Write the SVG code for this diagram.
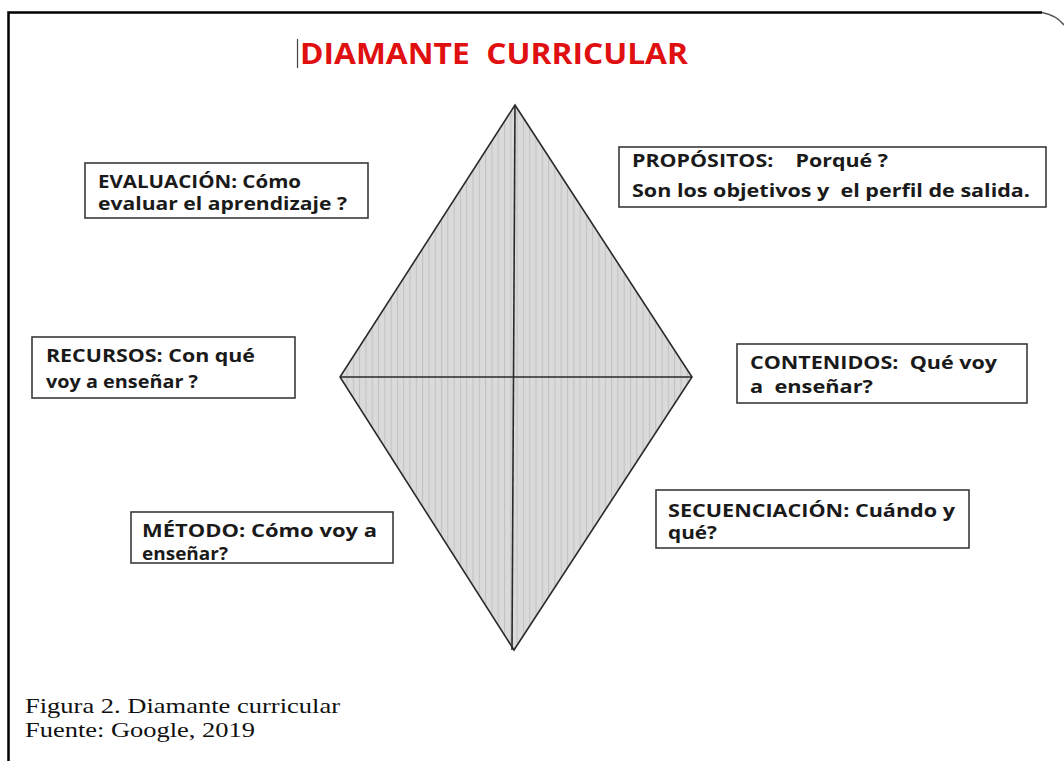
<svg xmlns="http://www.w3.org/2000/svg" width="1064" height="761" viewBox="0 0 1064 761">
<defs>
<pattern id="stripes" patternUnits="userSpaceOnUse" width="6.3" height="10">
<rect width="6.3" height="10" fill="#dadada"/>
<line x1="0.5" y1="0" x2="0.5" y2="10" stroke="#c2c2c2" stroke-width="1"/>
</pattern>
</defs>
<style>
.box{fill:#fff;stroke:#3a3a3a;stroke-width:1.6}
.lbl{font-family:"Open Sans","Liberation Sans",sans-serif;font-weight:bold;font-size:17.5px;fill:#1a1a1a}
.cap{font-family:"Liberation Serif","Times New Roman",serif;font-size:21px;fill:#111}
.edge{stroke:#2a2a2a;stroke-width:1.6;fill:none}
</style>
<rect width="1064" height="761" fill="#fff"/>
<g id="frame">
<path d="M8.5,761 V12.5 H1042" fill="none" stroke="#000" stroke-width="2.5"/>
<path d="M1042,12.5 Q1056,15 1064,25" fill="none" stroke="#555" stroke-width="1.5"/>
</g>
<g id="title">
<line x1="297.5" y1="39" x2="297.5" y2="68" stroke="#444" stroke-width="1.2"/>
<text x="300" y="64" font-family="Open Sans, Liberation Sans, sans-serif" font-weight="bold" font-size="28" fill="#e01010" textLength="388" lengthAdjust="spacingAndGlyphs" xml:space="preserve">DIAMANTE  CURRICULAR</text>
</g>
<g id="diamond">
<polygon points="515,105 692,377 514,650 340,377" fill="url(#stripes)" stroke="#2a2a2a" stroke-width="1.6"/>
</g>
<g id="connectors">
<line class="edge" x1="515" y1="105" x2="512" y2="650"/>
<line class="edge" x1="340" y1="377" x2="692" y2="377" stroke="#444"/>
</g>
<g id="evaluacion">
<rect class="box" x="85" y="163" width="283" height="55"/>
<text class="lbl" x="98" y="188" textLength="203" lengthAdjust="spacingAndGlyphs">EVALUACIÓN: Cómo</text>
<text class="lbl" x="98" y="210" textLength="249" lengthAdjust="spacingAndGlyphs">evaluar el aprendizaje ?</text>
</g>
<g id="propositos">
<rect class="box" x="619" y="147" width="427" height="60"/>
<text class="lbl" x="632" y="167" textLength="256" lengthAdjust="spacingAndGlyphs" xml:space="preserve">PROPÓSITOS:    Porqué ?</text>
<text class="lbl" x="632" y="197" textLength="398" lengthAdjust="spacingAndGlyphs" xml:space="preserve">Son los objetivos y  el perfil de salida.</text>
</g>
<g id="recursos">
<rect class="box" x="32" y="337" width="263" height="61"/>
<text class="lbl" x="46" y="362" textLength="209" lengthAdjust="spacingAndGlyphs">RECURSOS: Con qué</text>
<text class="lbl" x="46" y="388" textLength="152" lengthAdjust="spacingAndGlyphs">voy a enseñar ?</text>
</g>
<g id="contenidos">
<rect class="box" x="737" y="344" width="290" height="59"/>
<text class="lbl" x="750" y="369" textLength="247" lengthAdjust="spacingAndGlyphs" xml:space="preserve">CONTENIDOS:  Qué voy</text>
<text class="lbl" x="750" y="393" textLength="123" lengthAdjust="spacingAndGlyphs" xml:space="preserve">a  enseñar?</text>
</g>
<g id="metodo">
<rect class="box" x="131" y="512" width="262" height="51"/>
<text class="lbl" x="142" y="537" textLength="235" lengthAdjust="spacingAndGlyphs">MÉTODO: Cómo voy a</text>
<text class="lbl" x="142" y="560" textLength="86" lengthAdjust="spacingAndGlyphs">enseñar?</text>
</g>
<g id="secuenciacion">
<rect class="box" x="656" y="490" width="313" height="58"/>
<text class="lbl" x="668" y="517" textLength="287" lengthAdjust="spacingAndGlyphs">SECUENCIACIÓN: Cuándo y</text>
<text class="lbl" x="668" y="539" textLength="49" lengthAdjust="spacingAndGlyphs">qué?</text>
</g>
<g id="caption">
<text class="cap" x="25" y="713" textLength="315" lengthAdjust="spacingAndGlyphs">Figura 2. Diamante curricular</text>
<text class="cap" x="25" y="737" textLength="230" lengthAdjust="spacingAndGlyphs">Fuente: Google, 2019</text>
</g>
</svg>
